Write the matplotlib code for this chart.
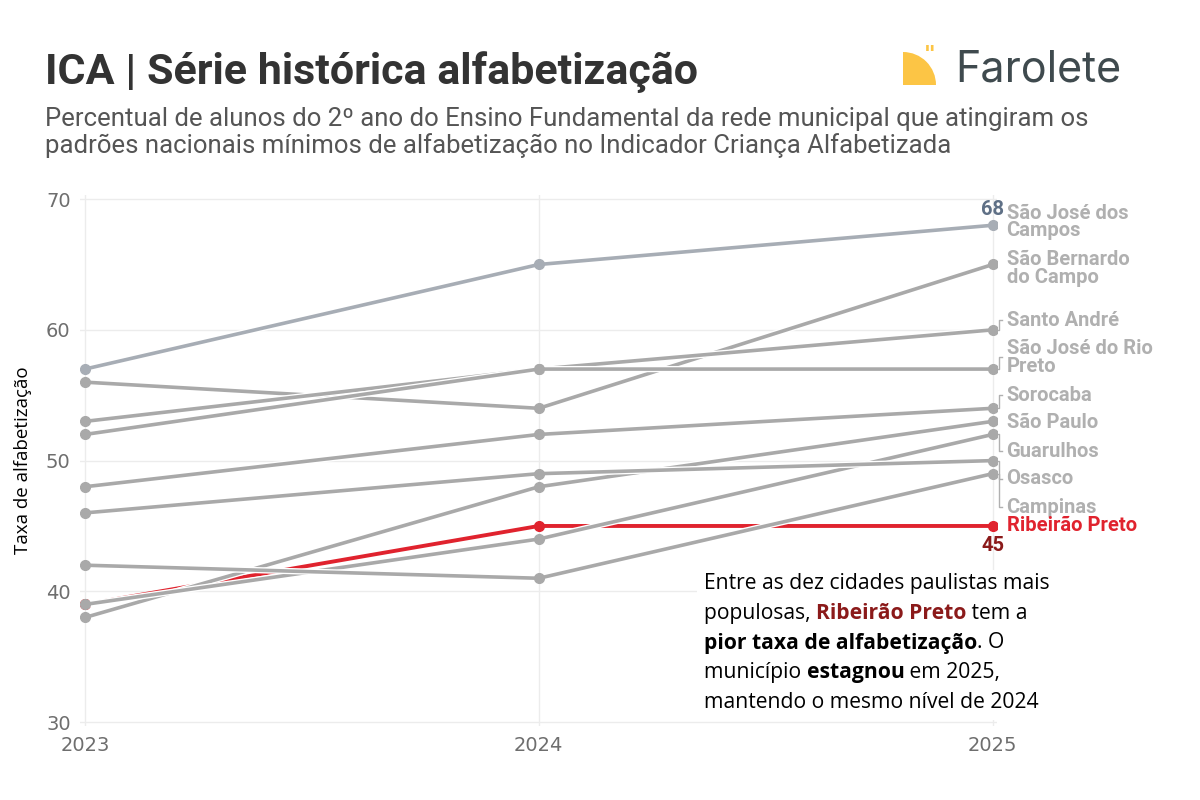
import matplotlib
matplotlib.use('Agg')
import matplotlib.pyplot as plt
from matplotlib.patches import Wedge, Rectangle
import matplotlib.patheffects as pe

anos = [2023, 2024, 2025]
cidades = ['São José dos\nCampos', 'São Bernardo\ndo Campo', 'Santo André', 'São José do Rio\nPreto',
           'Sorocaba', 'São Paulo', 'Guarulhos', 'Osasco', 'Campinas', 'Ribeirão Preto']
sjc = [57, 65, 68]
sbc = [56, 54, 65]
santo_andre = [53, 57, 60]
sjrp = [52, 57, 57]
sorocaba = [48, 52, 54]
sao_paulo = [38, 48, 53]
guarulhos = [39, 44, 52]
osasco = [46, 49, 50]
campinas = [42, 41, 49]
ribeirao = [39, 45, 45]
series = [sjc, sbc, santo_andre, sjrp, sorocaba, sao_paulo, guarulhos, osasco, campinas, ribeirao]
# where each name sits at the right edge
label_y = [68.25, 64.7, 60.75, 57.9, 55.0, 52.95, 50.7, 48.6, 46.45, 45.0]

narrow = 'Roboto'

fig = plt.figure(figsize=(12, 8), dpi=100)
ax = fig.add_axes([0.067, 0.0925, 0.764, 0.6635])

gray = '#a9a9a9'
red = '#e0232e'
halo = [pe.Stroke(linewidth=4.5, foreground='white'), pe.Normal()]

ax.plot(anos, ribeirao, color=red, lw=2.8, zorder=3)
ax.plot(anos, ribeirao, color=red, lw=0, marker='o', ms=7, zorder=3)
for i, s in enumerate(series[:-1]):
    c = '#a7adb5' if i == 0 else gray
    ax.plot(anos, s, color=c, lw=2.6, zorder=4 + i, path_effects=halo)
    ax.plot(anos, s, color=c, lw=0, marker='o', ms=7, zorder=4 + i)

ax.set_xlim(2022.99, 2025.01)
ax.set_ylim(29.7, 70.3)
ax.set_xticks(anos)
ax.set_yticks([30, 40, 50, 60, 70])
ax.grid(color='#ececec', lw=1)
for sp in ax.spines.values():
    sp.set_visible(False)
ax.tick_params(length=0, labelsize=14, colors='#6e6e6e', pad=7)
ax.set_ylabel('Taxa de alfabetização', fontsize=13.5, family='Open Sans', color='black', labelpad=10)

# labels and connectors
dx = 2.0 / 917
for s, name, ly in zip(series, cidades, label_y):
    v = s[-1]
    col = red if name == 'Ribeirão Preto' else '#b0b0b0'
    ax.text(2025 + 14 * dx, ly, name, color=col, fontsize=14.5, family=narrow, weight='bold',
            va='center', ha='left', linespacing=0.9, clip_on=False)
    if abs(ly - v) > 0.3:
        ax.plot([2025 + 3 * dx, 2025 + 6 * dx, 2025 + 6 * dx, 2025 + 9 * dx],
                [v, v, ly, ly], color='#b0b0b0', lw=1, clip_on=False)

ax.text(2025, 68.5, '68', color='#5f7086', fontsize=14.5, weight='bold', family=narrow,
        ha='center', va='bottom')
ax.text(2025, 44.2, '45', color='#8b1a1a', fontsize=14.5, weight='bold', family=narrow,
        ha='center', va='top')

# annotation box
fig.patches.append(Rectangle((697 / 1200, 1 - 720 / 800), 370 / 1200, 150 / 800,
                             transform=fig.transFigure, facecolor='white', edgecolor='none', zorder=5))
lines = [
    [('Entre as dez cidades paulistas mais', 'normal', 'black')],
    [('populosas, ', 'normal', 'black'), ('Ribeirão Preto', 'bold', '#8b1a1a'), (' tem a', 'normal', 'black')],
    [('pior taxa de alfabetização', 'bold', 'black'), ('. O', 'normal', 'black')],
    [('município ', 'normal', 'black'), ('estagnou', 'bold', 'black'), (' em 2025,', 'normal', 'black')],
    [('mantendo o mesmo nível de 2024', 'normal', 'black')],
]
r = fig.canvas.get_renderer()
for k, parts in enumerate(lines):
    x = 704
    y = 584 + 29.5 * k
    for txt, w, c in parts:
        t = fig.text(x / 1200, 1 - y / 800, txt, fontsize=15.2, family='Open Sans', weight=w,
                     color=c, va='center', ha='left', zorder=6)
        x += t.get_window_extent(renderer=r).width

# header
fig.text(45 / 1200, 1 - 72 / 800, 'ICA | Série histórica alfabetização', fontsize=31, weight='bold',
         family=narrow, color='#333333', va='center')
fig.text(45 / 1200, 1 - 119 / 800, 'Percentual de alunos do 2º ano do Ensino Fundamental da rede municipal que atingiram os',
         fontsize=18.5, family=narrow, color='#555555', va='center')
fig.text(45 / 1200, 1 - 146 / 800, 'padrões nacionais mínimos de alfabetização no Indicador Criança Alfabetizada',
         fontsize=18.5, family=narrow, color='#555555', va='center')

# logo
lax = fig.add_axes([900 / 1200, 1 - 88 / 800, 40 / 1200, 40 / 800])
lax.set_xlim(0, 40)
lax.set_ylim(0, 40)
lax.axis('off')
lax.add_patch(Wedge((3, 3), 33, 0, 90, facecolor='#fcc545', edgecolor='none'))
lax.text(30, 33, '"', fontsize=16, color='#fcc545', weight='bold', ha='center', va='center')
fig.text(955 / 1200, 1 - 70 / 800, 'Farolete', fontsize=31, family='Inter', color='#3f4a4e', va='center')

fig.savefig('out.png', dpi=100, facecolor='white')
